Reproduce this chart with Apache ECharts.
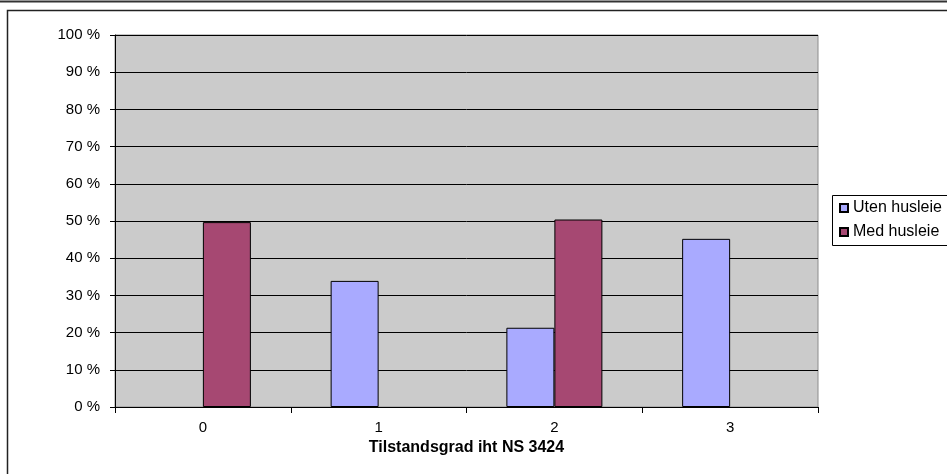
<!DOCTYPE html>
<html>
<head>
<meta charset="utf-8">
<script src="https://cdn.jsdelivr.net/npm/echarts@6/dist/echarts.min.js"></script>
<style>
  html, body { margin: 0; padding: 0; background: #ffffff; }
  #chart { width: 947px; height: 474px; }
</style>
</head>
<body>
<div id="chart"></div>
<script>
// Condition grade categories (NS 3424) and share of buildings per group, in percent
const categories = ['0', '1', '2', '3'];
const utenHusleie = [null, 33.9, 21.3, 45.2];
const medHusleie = [49.7, null, 50.4, null];
const seriesNames = ['Uten husleie', 'Med husleie'];
const axisTitle = 'Tilstandsgrad iht NS 3424';

const FONT = '"Liberation Sans", Arial, sans-serif';

const chart = echarts.init(document.getElementById('chart'), null, { renderer: 'canvas' });

chart.setOption({
  backgroundColor: '#ffffff',
  animation: false,
  textStyle: { fontFamily: FONT, color: '#000' },
  graphic: [
    // outer frame of the chart object
    { type: 'line', shape: { x1: 0, y1: 1.5, x2: 947, y2: 1.5 },
      style: { stroke: '#333', lineWidth: 2 }, silent: true },
    { type: 'rect', shape: { x: 7.5, y: 10.5, width: 960, height: 480 },
      style: { fill: 'none', stroke: '#222', lineWidth: 1.5 }, silent: true },
    // legend box, running past the right edge
    { type: 'rect', shape: { x: 832.5, y: 195.5, width: 140, height: 50 },
      style: { fill: '#ffffff', stroke: '#000', lineWidth: 1 }, silent: true, z: -1 }
  ],
  grid: {
    left: 115, right: 129, top: 35, bottom: 67,
    show: true,
    backgroundColor: '#cbcbcb',
    borderColor: '#8c8c8c',
    borderWidth: 1
  },
  legend: {
    orient: 'vertical',
    left: 832,
    top: 195,
    data: seriesNames,
    icon: 'rect',
    itemWidth: 8,
    itemHeight: 8,
    itemGap: 8,
    padding: [5, 4, 5, 7],
    backgroundColor: 'transparent',
    borderWidth: 0,
    textStyle: { fontFamily: FONT, fontSize: 16, color: '#000' }
  },
  xAxis: {
    type: 'category',
    data: categories,
    name: axisTitle,
    nameLocation: 'middle',
    nameGap: 32,
    nameTextStyle: { fontFamily: FONT, fontSize: 16, fontWeight: 'bold', color: '#000' },
    axisLine: { show: true, lineStyle: { color: '#000', width: 1 } },
    axisTick: { show: true, length: 6, lineStyle: { color: '#000' } },
    axisLabel: { fontFamily: FONT, fontSize: 15, color: '#000', margin: 13 },
    splitLine: { show: false }
  },
  yAxis: {
    type: 'value',
    min: 0,
    max: 100,
    interval: 10,
    axisLine: { show: true, lineStyle: { color: '#000', width: 1 } },
    axisTick: { show: true, length: 5, inside: false, lineStyle: { color: '#000' } },
    axisLabel: { fontFamily: FONT, fontSize: 15, color: '#000', margin: 15, formatter: '{value} %' },
    splitLine: { show: true, lineStyle: { color: '#000', width: 1 } }
  },
  series: [
    {
      name: seriesNames[0],
      type: 'bar',
      data: utenHusleie,
      barWidth: 48,
      barGap: '0%',
      itemStyle: { color: '#a9aaff', borderColor: '#000', borderWidth: 1 }
    },
    {
      name: seriesNames[1],
      type: 'bar',
      data: medHusleie,
      barWidth: 48,
      barGap: '0%',
      itemStyle: { color: '#a64872', borderColor: '#000', borderWidth: 1 }
    }
  ]
});
</script>
</body>
</html>
